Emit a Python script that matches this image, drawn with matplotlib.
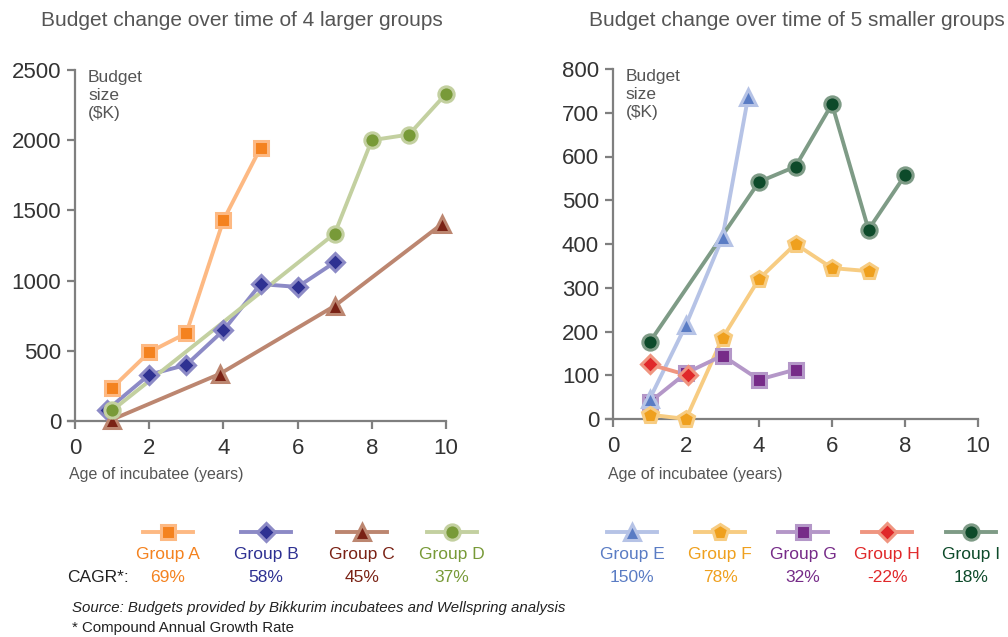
import matplotlib
matplotlib.use("Agg")
import matplotlib.pyplot as plt
from matplotlib.lines import Line2D

plt.rcParams['font.family'] = ['Liberation Sans', 'DejaVu Sans']

# ---------------- data ----------------
# Larger groups
a_x = [1, 2, 3, 4, 5]
a_y = [235, 490, 625, 1430, 1945]
b_x = [0.85, 2, 3, 4, 5, 6, 7]
b_y = [75, 330, 400, 645, 975, 955, 1130]
c_x = [1, 3.9, 7, 9.9]
c_y = [10, 335, 820, 1405]
d_x = [1, 7, 8, 9, 10]
d_y = [75, 1335, 2000, 2040, 2330]
# Smaller groups
e_x = [1, 2, 3, 3.7]
e_y = [45, 215, 415, 735]
f_x = [1, 2, 3, 4, 5, 6, 7]
f_y = [10, 0, 185, 320, 400, 345, 338]
g_x = [1, 2, 3, 4, 5]
g_y = [38, 105, 145, 90, 113]
h_x = [1, 2.05]
h_y = [125, 100]
i_x = [1, 4, 5, 6, 7, 8]
i_y = [175, 542, 577, 720, 433, 557]

large_names = ["Group A", "Group B", "Group C", "Group D"]
large_cagr = ["69%", "58%", "45%", "37%"]
small_names = ["Group E", "Group F", "Group G", "Group H", "Group I"]
small_cagr = ["150%", "78%", "32%", "-22%", "18%"]

left_yticks = [0, 500, 1000, 1500, 2000, 2500]
right_yticks = [0, 100, 200, 300, 400, 500, 600, 700, 800]
xticks = [0, 2, 4, 6, 8, 10]

# ---------------- styles ----------------
# (marker, face, edge/line colour, marker size, marker zorder)
large_styles = [
    ('s', '#F4821F', '#FDB983', 10, 3.1),
    ('D', '#2E3192', '#8C8AC6', 9, 3.2),
    ('^', '#7A2215', '#BC8670', 11, 3.3),
    ('o', '#789A38', '#C3D0A0', 11, 3.4),
]
small_styles = [
    ('^', '#5A7CC4', '#B6C3E6', 11, 3.5),
    ('p', '#EFA01E', '#F7CC82', 12, 3.6),
    ('s', '#762B88', '#B497C8', 10, 3.0),
    ('D', '#E0282A', '#EF9580', 9, 3.4),
    ('o', '#0D4A2A', '#7E9B86', 11, 3.3),
]

GRAY = '#7f7f7f'
TXT = '#555555'

fig = plt.figure(figsize=(10.08, 6.37), dpi=100)
W, H = 1008, 637


def px_axes(x0, x1, y0, y1):
    return fig.add_axes([x0 / W, 1 - y1 / H, (x1 - x0) / W, (y1 - y0) / H])


def style_axes(ax, yticks, label_y):
    for s in ['top', 'right']:
        ax.spines[s].set_visible(False)
    for s in ['left', 'bottom']:
        ax.spines[s].set_color(GRAY)
        ax.spines[s].set_linewidth(1.6)
        ax.spines[s].set_zorder(1)
    ax.spines['bottom'].set_bounds(-0.2, 10)
    ax.set_xlim(0, 10)
    ax.set_xticks(xticks)
    ax.set_yticks(yticks)
    ax.set_ylim(yticks[0], yticks[-1])
    ax.tick_params(axis='both', direction='out', length=6, width=1.6,
                   color=GRAY, labelsize=16, labelcolor='#333333', pad=4)
    ax.tick_params(axis='x', pad=6)
    ax.text(-0.015, label_y, "Age of incubatee (years)", transform=ax.transAxes,
            fontsize=11.5, color=TXT, ha='left', va='center')
    ax.text(0.035, 1.0, "Budget\nsize\n($K)", transform=ax.transAxes,
            fontsize=12.5, color=TXT, va='top', ha='left', linespacing=1.25)


def plot_series(ax, xs, ys, st):
    m, face, edge, ms, z = st
    ax.plot(xs, ys, '-', color=edge, lw=2.8, zorder=2, clip_on=False)
    ax.plot(xs, ys, linestyle='none', marker=m, ms=ms, mfc=face, mec=edge,
            mew=2.2, zorder=z, clip_on=False)


# Left chart
axL = px_axes(75, 446, 70, 421)
style_axes(axL, left_yticks, -(475 - 421) / 351)
for xs, ys, st in zip([a_x, b_x, c_x, d_x], [a_y, b_y, c_y, d_y], large_styles):
    plot_series(axL, xs, ys, st)

# Right chart
axR = px_axes(613, 978, 69, 419)
style_axes(axR, right_yticks, -(475 - 419) / 350)
for xs, ys, st in zip([e_x, f_x, g_x, h_x, i_x], [e_y, f_y, g_y, h_y, i_y],
                      small_styles):
    plot_series(axR, xs, ys, st)

# Titles
fig.text(242 / W, 1 - 20 / H, "Budget change over time of 4 larger groups",
         fontsize=15, color=TXT, ha='center', va='center')
fig.text(797 / W, 1 - 20 / H, "Budget change over time of 5 smaller groups",
         fontsize=15, color=TXT, ha='center', va='center')

# Legend overlay (pixel coordinates)
ov = fig.add_axes([0, 0, 1, 1], zorder=5)
ov.set_xlim(0, W)
ov.set_ylim(H, 0)
ov.axis('off')

large_centers = [168, 266, 362, 452]
small_centers = [632, 720, 803, 887, 971]
for names, cagr, styles, centers in [
        (large_names, large_cagr, large_styles, large_centers),
        (small_names, small_cagr, small_styles, small_centers)]:
    for n, c, st, cx in zip(names, cagr, styles, centers):
        m, face, edge, ms, z = st
        ov.add_line(Line2D([cx - 25, cx + 25], [532, 532], color=edge, lw=2.8))
        ov.add_line(Line2D([cx], [532], marker=m, ms=ms, mfc=face, mec=edge,
                           mew=2.2, linestyle='none'))
        ov.text(cx, 555, n, fontsize=12.5, color=face, ha='center', va='center')
        ov.text(cx, 578, c, fontsize=12.5, color=face, ha='center', va='center')

ov.text(67, 578, "CAGR*:", fontsize=12.5, color='#222222', ha='left', va='center')
ov.text(72, 608, "Source: Budgets provided by Bikkurim incubatees and Wellspring analysis",
        fontsize=10.8, style='italic', color='#222222', ha='left', va='center')
ov.text(72, 628, "* Compound Annual Growth Rate", fontsize=10.8, color='#222222',
        ha='left', va='center')

fig.savefig("out.png", dpi=100)
